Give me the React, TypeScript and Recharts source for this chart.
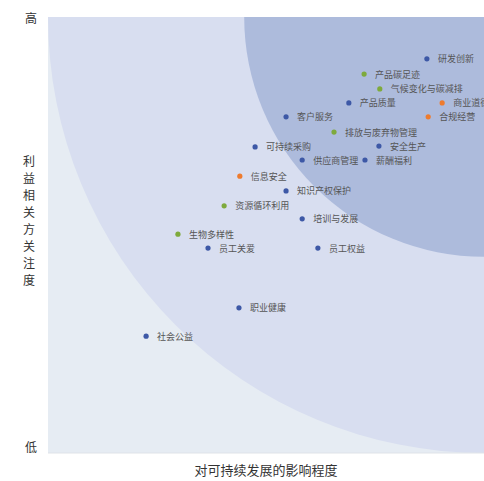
import React from 'react';
import { ScatterChart, Scatter, XAxis, YAxis, ReferenceArea } from 'recharts';

// 议题名称、对可持续发展的影响程度（x）、利益相关方关注度（y）
const topics = [
  '研发创新', '产品碳足迹', '气候变化与碳减排', '产品质量', '商业道德', '合规经营',
  '客户服务', '排放与废弃物管理', '可持续采购', '安全生产', '供应商管理', '薪酬福利',
  '信息安全', '知识产权保护', '资源循环利用', '培训与发展', '生物多样性', '员工关爱',
  '员工权益', '职业健康', '社会公益',
];
const impact = [
  8.69, 7.25, 7.61, 6.9, 9.04, 8.72,
  5.46, 6.56, 4.75, 7.59, 5.83, 7.27,
  4.4, 5.46, 4.04, 5.83, 2.98, 3.67,
  6.19, 4.38, 2.25,
];
const concern = [
  9.04, 8.69, 8.35, 8.03, 8.03, 7.71,
  7.71, 7.36, 7.02, 7.04, 6.72, 6.72,
  6.35, 6.01, 5.67, 5.37, 5.02, 4.7,
  4.7, 3.33, 2.68,
];
// 议题类别: s = 社会/经济, e = 环境, g = 治理
const category = [
  's', 'e', 'e', 's', 'g', 'g',
  's', 'e', 's', 's', 's', 's',
  'g', 's', 'e', 's', 'e', 's',
  's', 's', 's',
];

const DOMAIN: [number, number] = [0, 10];
const zoneRadii = [10, 5.5];
const zoneColors = ['#e6ecf3', '#d8def0', '#adbbdc'];

const catColors: Record<string, string> = { s: '#3d58a6', e: '#7eaa3c', g: '#ee7b2e' };

const points = topics.map((name, i) => ({ name, x: impact[i], y: concern[i], cat: category[i] }));

const FONT = '"Noto Sans CJK SC", "Noto Sans", sans-serif';

const Zones = (props: any) => {
  const { x, y, width, height } = props;
  const unit = width / (DOMAIN[1] - DOMAIN[0]);
  const cx = x + width;
  const cy = y;
  return (
    <g>
      <defs>
        <clipPath id="zone-clip">
          <rect x={x} y={y} width={width} height={height} />
        </clipPath>
      </defs>
      <g clipPath="url(#zone-clip)">
        <rect x={x} y={y} width={width} height={height} fill={zoneColors[0]} />
        {zoneRadii.map((r, i) => (
          <circle key={i} cx={cx} cy={cy} r={r * unit} fill={zoneColors[i + 1]} />
        ))}
      </g>
      <line x1={x} x2={x + width} y1={y + height} y2={y + height} stroke="#dfe3e8" strokeWidth={1} />
    </g>
  );
};

const Dot = (props: any) => {
  const { cx, cy, payload, fill } = props;
  return (
    <g>
      <circle cx={cx} cy={cy} r={2.6} fill={fill} />
      <text
        x={cx + 11}
        y={cy}
        dominantBaseline="central"
        fontSize={9}
        fill="#555"
        fontFamily={FONT}
      >
        {payload.name}
      </text>
    </g>
  );
};

export default function App() {
  return (
    <div style={{ position: 'fixed', left: 0, top: 0, width: 484, height: 481, background: '#fff', fontFamily: FONT }}>
      <ScatterChart width={484} height={481} margin={{ top: 17, right: 0, left: 48, bottom: 28 }}>
        <XAxis type="number" dataKey="x" domain={DOMAIN} hide />
        <YAxis type="number" dataKey="y" domain={DOMAIN} hide />
        <ReferenceArea x1={DOMAIN[0]} x2={DOMAIN[1]} y1={DOMAIN[0]} y2={DOMAIN[1]} shape={<Zones />} />
        {['s', 'e', 'g'].map((c) => (
          <Scatter
            key={c}
            data={points.filter((p) => p.cat === c)}
            fill={catColors[c]}
            shape={<Dot />}
            isAnimationActive={false}
          />
        ))}
      </ScatterChart>
      <div style={{ position: 'absolute', left: 25, top: 9, fontSize: 12, color: '#333' }}>高</div>
      <div style={{ position: 'absolute', left: 25, top: 438, fontSize: 12, color: '#333' }}>低</div>
      <div
        style={{
          position: 'absolute',
          left: 22,
          top: 152,
          width: 14,
          fontSize: 12,
          lineHeight: '17px',
          color: '#333',
          textAlign: 'center',
        }}
      >
        {'利益相关方关注度'.split('').map((ch, i) => (
          <div key={i}>{ch}</div>
        ))}
      </div>
      <div
        style={{
          position: 'absolute',
          left: 48,
          width: 436,
          top: 460,
          textAlign: 'center',
          fontSize: 13,
          color: '#333',
        }}
      >
        对可持续发展的影响程度
      </div>
    </div>
  );
}
